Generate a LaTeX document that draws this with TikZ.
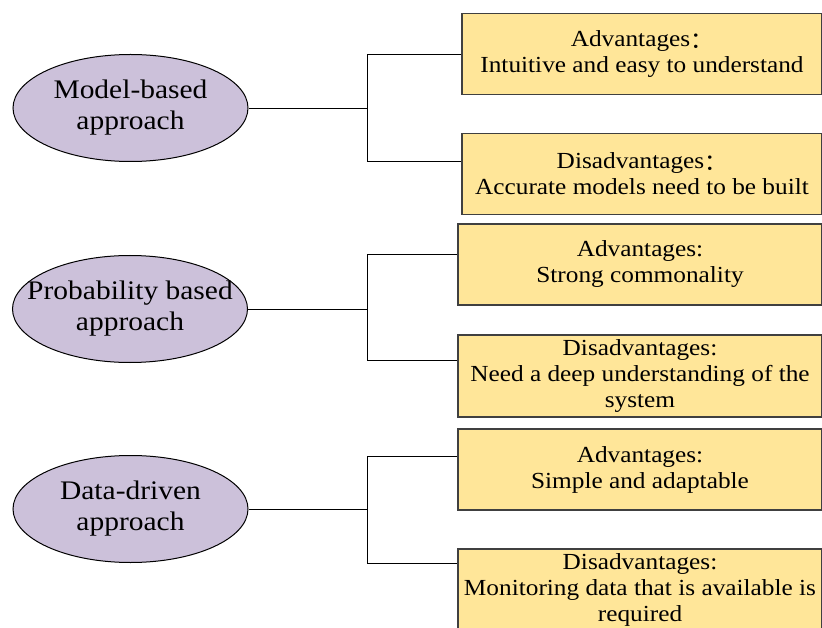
\documentclass[tikz,border=0pt]{standalone}
\usepackage{fontspec}
\setmainfont[FakeStretch=1.1]{Liberation Serif}
\newfontfamily\cjk{Noto Sans CJK SC}
\usetikzlibrary{shapes.geometric, positioning, calc}
\definecolor{approachLilac}{RGB}{204, 193, 218}
\definecolor{noteYellow}{RGB}{255, 230, 153}
\definecolor{noteBorder}{RGB}{64, 64, 64}
% text lines that may touch the ellipse border
\newcommand{\tightline}[1]{\makebox[0pt]{#1}}
\newcommand{\widecolon}{\raisebox{-0.08em}{\cjk ：}}

\begin{document}
\begin{tikzpicture}[
    x=1pt, y=-1pt,
    approach/.style={draw, ellipse, fill=approachLilac, line width=1pt, minimum width=235pt, minimum height=107pt, inner sep=0pt, align=center, font=\fontsize{26.8}{31}\selectfont},
    note/.style={draw=noteBorder, fill=noteYellow, line width=1.3pt, minimum height=81pt, inner sep=0pt, align=center, font=\fontsize{23}{26}\selectfont},
    link/.style={line width=0.9pt}
]
\useasboundingbox (0,0) rectangle (822,628);
\clip (0,0) rectangle (822,628);

% Approaches
\node[approach] (model) at (130.5, 108) {\tightline{Model-based}\\\tightline{approach}};
\node[approach] (prob) at (130, 309) {\tightline{Probability based}\\\tightline{approach}};
\node[approach] (data) at (130.5, 509) {\tightline{Data-driven}\\\tightline{approach}};

% Model-based notes
\node[note, minimum width=360pt] (modelAdv) at (642, 54) {Advantages\widecolon\\Intuitive and easy to understand};
\node[note, minimum width=360pt] (modelDis) at (642, 174) {Disadvantages\widecolon\\Accurate models need to be built};

% Probability based notes
\node[note, minimum width=364pt] (probAdv) at (640, 264.5) {Advantages:\\Strong commonality};
\node[note, minimum width=364pt, minimum height=82pt] (probDis) at (640, 376) {Disadvantages:\\Need a deep understanding of the\\system};

% Data-driven notes
\node[note, minimum width=364pt] (dataAdv) at (640, 469.5) {Advantages:\\Simple and adaptable};
\node[note, minimum width=364pt, minimum height=82pt] (dataDis) at (640, 590) {Disadvantages:\\Monitoring data that is available is\\required};

% Brackets
\coordinate (modelJ) at (367, 108);
\coordinate (modelT) at (367, 54);
\coordinate (modelB) at (367, 161);
\coordinate (probJ) at (367, 309);
\coordinate (probT) at (367, 254);
\coordinate (probB) at (367, 360);
\coordinate (dataJ) at (367, 509);
\coordinate (dataT) at (367, 456);
\coordinate (dataB) at (367, 563);

\draw[link] (model) -- (modelJ);
\draw[link] (modelT -| modelAdv.west) -- (modelT) -- (modelB) -- (modelB -| modelDis.west);
\draw[link] (prob) -- (probJ);
\draw[link] (probT -| probAdv.west) -- (probT) -- (probB) -- (probB -| probDis.west);
\draw[link] (data) -- (dataJ);
\draw[link] (dataT -| dataAdv.west) -- (dataT) -- (dataB) -- (dataB -| dataDis.west);

\end{tikzpicture}
\end{document}
